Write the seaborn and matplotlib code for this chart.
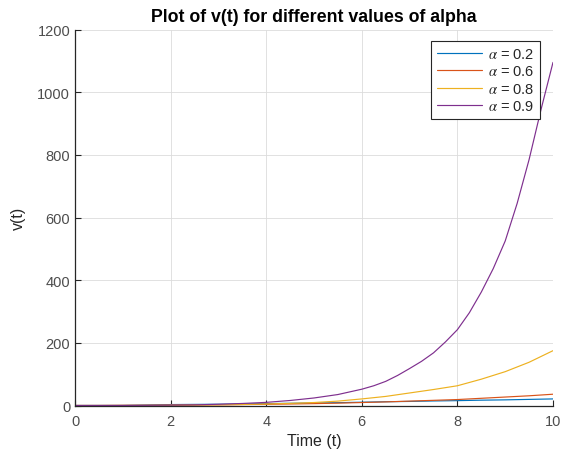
import numpy as np
import pandas as pd
import matplotlib
matplotlib.use("Agg")
import matplotlib.pyplot as plt
import seaborn as sns

t = [0, 0.5, 1, 1.5, 2, 2.5, 3, 3.5, 4, 4.5, 5, 5.5, 6, 6.5, 7, 7.5, 8, 8.5, 9, 9.5, 10]
v_02 = [0, 0, 0, 1.5, 3, 3.5, 4, 5, 6, 7, 8, 9, 10.5, 12, 13, 14.5, 15.5, 17, 18, 19.5, 21]
v_06 = [0, 0, 0.3, 0.6, 1.2, 1.6, 2.2, 3, 3.8, 4.8, 6, 7.5, 9.5, 11.5, 14, 16.5, 19, 23, 27, 31, 36]
v_08 = [0, 0, 0.3, 0.6, 1, 1.6, 2.3, 3.3, 4.8, 6.8, 9.5, 14, 21, 29, 40, 51, 63, 84, 108, 138, 175]
t_09 = [0, 0.5, 1, 1.5, 2, 2.5, 3, 3.5, 4, 4.5, 5, 5.5, 6, 6.25, 6.5, 6.75, 7, 7.25, 7.5, 7.75,
        8, 8.25, 8.5, 8.75, 9, 9.25, 9.5, 9.75, 10]
v_09 = [0, 0.1, 0.3, 0.6, 1.2, 2, 4, 6.5, 10, 16, 24, 35, 52, 63, 77, 96, 118, 141, 168, 203,
        242, 296, 362, 437, 525, 645, 785, 945, 1095]
labels = ["$\\alpha$ = 0.2", "$\\alpha$ = 0.6", "$\\alpha$ = 0.8", "$\\alpha$ = 0.9"]
colors = ["#0072BD", "#D95319", "#EDB120", "#7E2F8E"]
xticks = [0, 2, 4, 6, 8, 10]
yticks = [0, 200, 400, 600, 800, 1000, 1200]

frames = []
for lab, xs, vals in zip(labels, [t, t, t, t_09], [v_02, v_06, v_08, v_09]):
    frames.append(pd.DataFrame({"t": xs, "v": vals, "alpha": lab}))
df = pd.concat(frames, ignore_index=True)

sns.set_style("white")
plt.rcParams["font.family"] = ["Liberation Sans", "DejaVu Sans"]
plt.rcParams["mathtext.fontset"] = "stix"

fig = plt.figure(figsize=(5.61, 4.56), dpi=100)
ax = fig.add_axes([75 / 561, 1 - 406.5 / 456, (553 - 75) / 561, (406.5 - 30.5) / 456])

sns.lineplot(data=df, x="t", y="v", hue="alpha", hue_order=labels, palette=colors,
             linewidth=0.85, ax=ax)

ax.set_xlim(0, 10)
ax.set_ylim(0, 1200)
ax.set_xticks(xticks)
ax.set_yticks(yticks)
ax.grid(True, color="#dcdcdc", linewidth=0.6)
ax.set_axisbelow(True)
for s in ["top", "right"]:
    ax.spines[s].set_visible(False)
for s in ["left", "bottom"]:
    ax.spines[s].set_color("#262626")
    ax.spines[s].set_linewidth(0.9)
ax.tick_params(direction="in", length=4, width=0.8, colors="#262626", labelsize=10.5,
               labelcolor="#4d4d4d", left=True, bottom=True)
ax.tick_params(axis="x", pad=6)
ax.set_xlabel("Time (t)", fontsize=11.5, color="#262626", labelpad=4)
ax.set_ylabel("v(t)", fontsize=11.5, color="#262626", labelpad=8)
ax.set_title("Plot of v(t) for different values of alpha", fontsize=12.8, fontweight="bold",
             pad=6, color="#000000")

leg = ax.legend(loc="upper right", bbox_to_anchor=(0.973, 0.969), fontsize=10.5, frameon=True,
                fancybox=False, handlelength=3.1, borderpad=0.42, labelspacing=0.22,
                handletextpad=0.35, borderaxespad=0.0, labelcolor="#262626")
leg.get_frame().set_edgecolor("#262626")
leg.get_frame().set_linewidth(0.8)
leg.get_frame().set_alpha(1)

fig.savefig("out.png", dpi=100)
